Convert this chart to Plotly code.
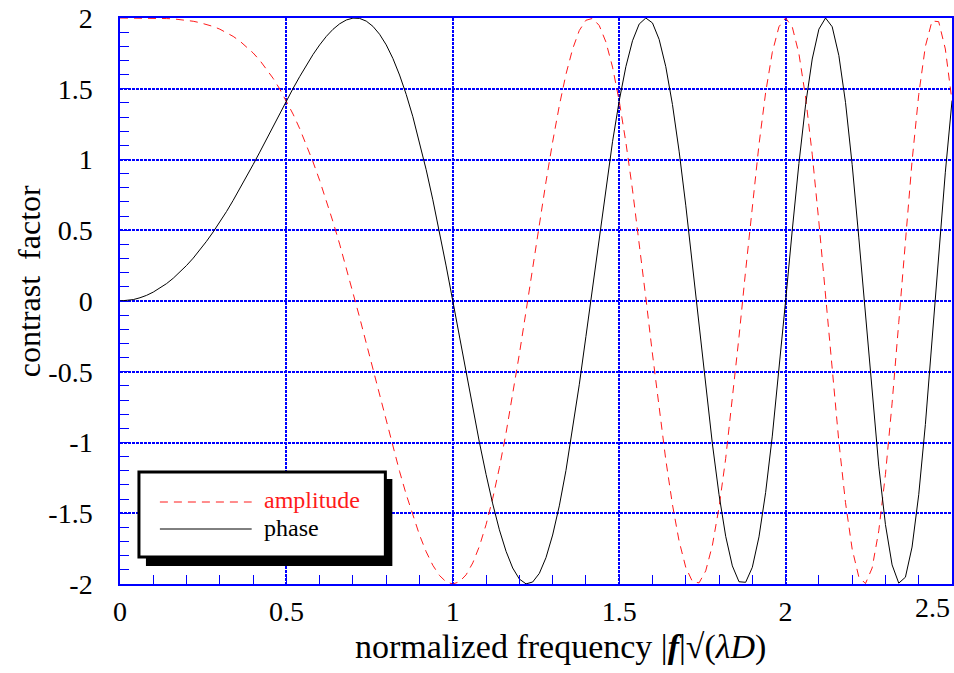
import plotly.graph_objects as go

# normalized frequency |f|sqrt(lambda D)
freq = [0.00, 0.02, 0.04, 0.06, 0.08, 0.10, 0.12, 0.14, 0.16, 0.18,
        0.20, 0.22, 0.24, 0.26, 0.28, 0.30, 0.32, 0.34, 0.36, 0.38,
        0.40, 0.42, 0.44, 0.46, 0.48, 0.50, 0.52, 0.54, 0.56, 0.58,
        0.60, 0.62, 0.64, 0.66, 0.68, 0.70, 0.72, 0.74, 0.76, 0.78,
        0.80, 0.82, 0.84, 0.86, 0.88, 0.90, 0.92, 0.94, 0.96, 0.98,
        1.00, 1.02, 1.04, 1.06, 1.08, 1.10, 1.12, 1.14, 1.16, 1.18,
        1.20, 1.22, 1.24, 1.26, 1.28, 1.30, 1.32, 1.34, 1.36, 1.38,
        1.40, 1.42, 1.44, 1.46, 1.48, 1.50, 1.52, 1.54, 1.56, 1.58,
        1.60, 1.62, 1.64, 1.66, 1.68, 1.70, 1.72, 1.74, 1.76, 1.78,
        1.80, 1.82, 1.84, 1.86, 1.88, 1.90, 1.92, 1.94, 1.96, 1.98,
        2.00, 2.02, 2.04, 2.06, 2.08, 2.10, 2.12, 2.14, 2.16, 2.18,
        2.20, 2.22, 2.24, 2.26, 2.28, 2.30, 2.32, 2.34, 2.36, 2.38,
        2.40, 2.42, 2.44, 2.46, 2.48, 2.50]

amplitude = [2.000, 2.000, 2.000, 2.000, 2.000, 1.999, 1.998, 1.996, 1.994, 1.990,
             1.984, 1.977, 1.967, 1.955, 1.940, 1.921, 1.897, 1.870, 1.837, 1.798,
             1.753, 1.701, 1.641, 1.574, 1.498, 1.414, 1.321, 1.218, 1.105, 0.983,
             0.852, 0.711, 0.560, 0.402, 0.236, 0.063, -0.116, -0.298, -0.483, -0.668,
             -0.852, -1.031, -1.204, -1.367, -1.518, -1.654, -1.772, -1.868, -1.940, -1.985,
             -2.000, -1.984, -1.935, -1.851, -1.733, -1.580, -1.395, -1.178, -0.933, -0.663,
             -0.375, -0.073, 0.236, 0.543, 0.842, 1.124, 1.380, 1.602, 1.781, 1.911,
             1.984, 1.997, 1.947, 1.831, 1.653, 1.414, 1.122, 0.785, 0.414, 0.023,
             -0.375, -0.762, -1.122, -1.439, -1.697, -1.882, -1.983, -1.992, -1.907, -1.727,
             -1.458, -1.112, -0.703, -0.253, 0.216, 0.678, 1.105, 1.473, 1.757, 1.938,
             2.000, 1.937, 1.748, 1.442, 1.037, 0.558, 0.035, -0.495, -0.994, -1.425,
             -1.753, -1.950, -1.997, -1.887, -1.624, -1.226, -0.722, -0.153, 0.434, 0.988,
             1.458, 1.800, 1.979, 1.974, 1.781, 1.414]

phase = [0.000, 0.003, 0.010, 0.023, 0.040, 0.063, 0.090, 0.123, 0.161, 0.203,
         0.251, 0.303, 0.360, 0.422, 0.488, 0.558, 0.632, 0.711, 0.792, 0.877,
         0.964, 1.052, 1.143, 1.234, 1.325, 1.414, 1.502, 1.586, 1.667, 1.742,
         1.810, 1.870, 1.920, 1.959, 1.986, 1.999, 1.997, 1.978, 1.941, 1.885,
         1.810, 1.714, 1.597, 1.460, 1.302, 1.124, 0.928, 0.715, 0.488, 0.248,
         0.000, -0.253, -0.507, -0.757, -0.999, -1.226, -1.434, -1.617, -1.769, -1.887,
         -1.965, -1.999, -1.986, -1.925, -1.814, -1.654, -1.448, -1.198, -0.910, -0.592,
         -0.251, 0.103, 0.458, 0.804, 1.126, 1.414, 1.656, 1.839, 1.957, 2.000,
         1.965, 1.849, 1.656, 1.389, 1.059, 0.677, 0.261, -0.173, -0.604, -1.009,
         -1.369, -1.663, -1.872, -1.984, -1.988, -1.882, -1.667, -1.353, -0.955, -0.495,
         0.000, 0.500, 0.972, 1.386, 1.710, 1.921, 2.000, 1.938, 1.735, 1.404,
         0.964, 0.446, -0.111, -0.663, -1.167, -1.580, -1.865, -1.994, -1.952, -1.739,
         -1.369, -0.872, -0.291, 0.323, 0.910, 1.414]

x_ticks = [0, 0.5, 1, 1.5, 2]
x_tick_text = ["0", "0.5", "1", "1.5", "2"]
y_ticks = [-2, -1.5, -1, -0.5, 0, 0.5, 1, 1.5, 2]
y_tick_text = ["-2", "-1.5", "-1", "-0.5", "0", "0.5", "1", "1.5", "2"]

W, H = 954, 673
L, R, T, B = 120, 0, 18, 89
PW, PH = W - L - R, H - T - B

def px(xp):
    return (xp - L) / PW

def py(yp):
    return (H - B - yp) / PH

FONT = "Liberation Serif, Times New Roman, serif"
BLUE = "#0000ff"
RED = "#ff1a1a"

fig = go.Figure()
fig.add_trace(go.Scatter(x=freq, y=amplitude, mode="lines", name="amplitude",
                         line=dict(color=RED, width=1, dash="8px,6px")))
fig.add_trace(go.Scatter(x=freq, y=phase, mode="lines", name="phase",
                         line=dict(color="black", width=1)))

axis_common = dict(
    showgrid=True, gridcolor=BLUE, gridwidth=1.5, griddash="3px,1px",
    showline=True, linecolor=BLUE, linewidth=1.5, mirror=True,
    ticks="inside", ticklen=9, tickcolor=BLUE, tickwidth=1,
    zeroline=False,
    tickfont=dict(family=FONT, size=28, color="black"),
)

fig.update_xaxes(range=[0, 2.5], tickvals=x_ticks, ticktext=x_tick_text,
                 minor=dict(dtick=0.1, ticks="inside", ticklen=9, tickcolor=BLUE, showgrid=False),
                 ticklabelstandoff=2, **axis_common)
fig.update_yaxes(range=[-2, 2], tickvals=y_ticks, ticktext=y_tick_text,
                 minor=dict(dtick=0.1, ticks="inside", ticklen=9, tickcolor=BLUE, showgrid=False),
                 ticklabelstandoff=20, **axis_common)

shapes = [
    # legend shadow
    dict(type="rect", xref="paper", yref="paper", layer="above",
         x0=px(146), x1=px(393), y0=py(479), y1=py(566),
         fillcolor="black", line=dict(color="black", width=0)),
    # legend box
    dict(type="rect", xref="paper", yref="paper", layer="above",
         x0=px(139), x1=px(386), y0=py(472), y1=py(557),
         fillcolor="white", line=dict(color="black", width=3)),
    dict(type="line", xref="paper", yref="paper", layer="above",
         x0=px(160), x1=px(252), y0=py(502), y1=py(502),
         line=dict(color=RED, width=1, dash="8px,6px")),
    dict(type="line", xref="paper", yref="paper", layer="above",
         x0=px(160), x1=px(252), y0=py(529), y1=py(529),
         line=dict(color="black", width=1)),
]

annotations = [
    dict(xref="paper", yref="paper", x=px(262), y=py(500), xanchor="left", yanchor="middle",
         text="amplitude", showarrow=False, font=dict(family=FONT, size=24, color=RED)),
    dict(xref="paper", yref="paper", x=px(262), y=py(528), xanchor="left", yanchor="middle",
         text="phase", showarrow=False, font=dict(family=FONT, size=24, color="black")),
    dict(xref="paper", yref="paper", x=1, y=py(607), xanchor="right", yanchor="middle",
         text="2.5", showarrow=False, font=dict(family=FONT, size=28, color="black")),
    dict(xref="paper", yref="paper", x=px(562), y=py(647), xanchor="center", yanchor="middle",
         text="normalized frequency |<b><i>f</i></b>|√(<i>λD</i>)", showarrow=False,
         font=dict(family=FONT, size=34, color="black")),
    dict(xref="paper", yref="paper", x=px(29), y=py(281), xanchor="center", yanchor="middle",
         text="contrast  factor", textangle=-90, showarrow=False,
         font=dict(family=FONT, size=32, color="black")),
]

fig.update_layout(
    width=W, height=H,
    margin=dict(l=L, r=R, t=T, b=B),
    paper_bgcolor="white", plot_bgcolor="white",
    showlegend=False,
    shapes=shapes, annotations=annotations,
)

fig.write_html("out.html")
